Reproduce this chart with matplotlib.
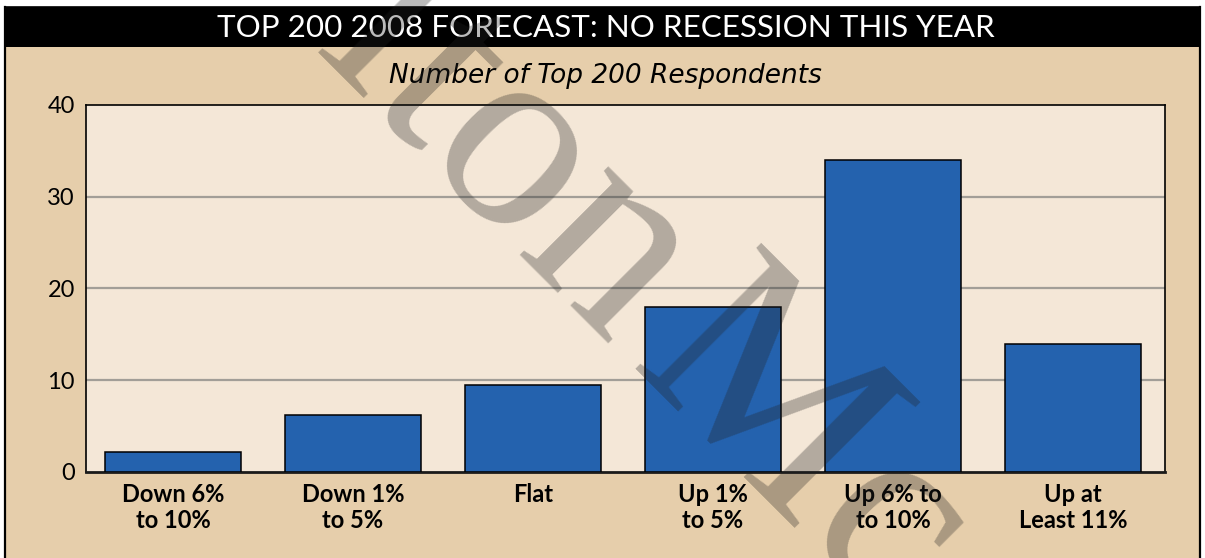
import matplotlib
matplotlib.use("Agg")
import matplotlib.pyplot as plt
from matplotlib.patches import Rectangle

# ---- data ----
categories = ["Down 6%\nto 10%", "Down 1%\nto 5%", "Flat", "Up 1%\nto 5%",
              "Up 6% to\nto 10%", "Up at\nLeast 11%"]
respondents = [2.2, 6.2, 9.5, 18, 34, 14]
yticks = [0, 10, 20, 30, 40]
title = "TOP 200 2008 FORECAST: NO RECESSION THIS YEAR"
subtitle = "Number of Top 200 Respondents"
watermark_a = "lton"
watermark_b = "Mc"

W, H = 1205, 558
fig = plt.figure(figsize=(W / 100, H / 100), dpi=100, facecolor="white")

# background decoration axes in pixel coords
bg = fig.add_axes([0, 0, 1, 1])
bg.set_xlim(0, W)
bg.set_ylim(H, 0)
bg.axis("off")
tan = "#e6ceab"
bg.add_patch(Rectangle((5, 7), 1195, 560, facecolor=tan, edgecolor="none"))
bg.add_patch(Rectangle((5, 7), 1195, 40, facecolor="black", edgecolor="none"))
bg.plot([5, 5], [7, H], color="black", lw=1.6)
bg.plot([1200, 1200], [7, H], color="black", lw=1.6)
bg.plot([5, 1200], [7, 7], color="black", lw=1.2)

bg.text(606, 28, title, color="white", fontsize=22.6,
        family=["Lato", "DejaVu Sans"], ha="center", va="center")
bg.text(605, 76, subtitle, color="black", fontsize=19, style="italic",
        family=["DejaVu Sans"], ha="center", va="center")

# main axes
ax = fig.add_axes([86 / W, 86 / H, 1079 / W, 367 / H])
ax.set_facecolor("#f4e7d7")
x = list(range(len(categories)))
ax.bar(x, respondents, width=0.755, color="#2462ae", edgecolor="black",
       linewidth=1.1, zorder=3)
ax.set_xlim(-0.483, 5.511)
ax.set_ylim(0, 40)
ax.set_yticks(yticks)
ax.set_yticklabels([str(t) for t in yticks], fontsize=17,
                   family=["Lato", "DejaVu Sans"])
ax.set_xticks(x)
ax.set_xticklabels(categories, fontsize=17, fontweight="bold",
                   family=["Lato", "DejaVu Sans"], linespacing=1.15)
ax.tick_params(axis="y", length=0, pad=8)
ax.tick_params(axis="x", length=0, pad=8)
for t in yticks[1:-1]:
    ax.axhline(t, color="#a29e97", lw=1.6, zorder=1)
for side in ["left", "right", "top"]:
    ax.spines[side].set_linewidth(1.2)
    ax.spines[side].set_color("black")
ax.spines["bottom"].set_linewidth(2.0)
ax.spines["bottom"].set_color("#1a1a1a")

# watermark on top of everything
wm = dict(fontsize=195, family=["Liberation Serif", "DejaVu Serif"],
          color="#222222", alpha=0.31, rotation=-45, rotation_mode="anchor",
          ha="left", va="baseline", zorder=100)
fig.text(312 / W, 1 - 52 / H, watermark_a, **wm)
fig.text(626 / W, 1 - 368 / H, watermark_b, **wm)

fig.savefig("out.png", dpi=100, facecolor="white")
